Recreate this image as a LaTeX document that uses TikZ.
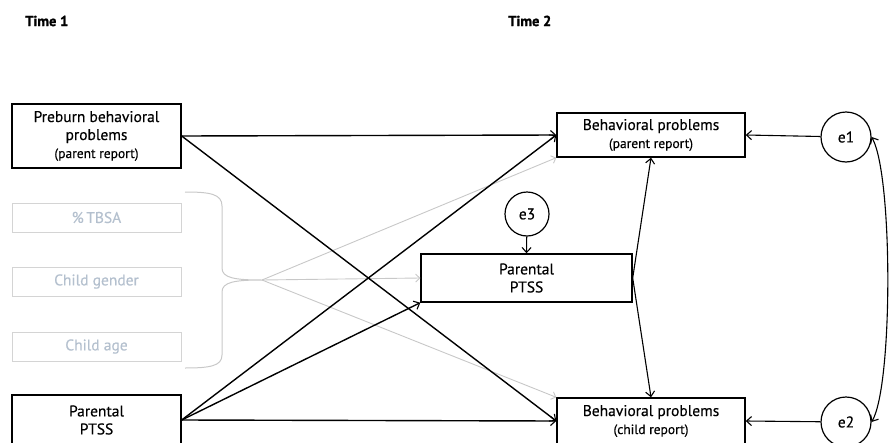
\documentclass[tikz,border=0pt]{standalone}
\usepackage{fontspec}
\setmainfont{PT Sans}[UprightFeatures={FakeBold=0.3},BoldFeatures={FakeBold=1.2}]
\usetikzlibrary{arrows.meta}
\definecolor{lgray}{HTML}{D4D4D4}
\definecolor{gtext}{HTML}{B4C0CE}
\definecolor{garrow}{HTML}{C8C8C8}
\begin{document}
\begin{tikzpicture}[x=1pt,y=-1pt,
  mainfont/.style={font=\fontsize{15.5}{18}\selectfont},
  box/.style={draw, line width=1.4pt, align=center, inner sep=0pt, mainfont},
  gbox/.style={draw=lgray, line width=1pt, align=center, inner sep=0pt, text=gtext,
    minimum width=169pt, minimum height=29pt, mainfont},
  err/.style={draw, circle, line width=1.2pt, inner sep=0pt, mainfont},
  tip/.style={-{Straight Barb[length=5pt,width=9pt,line width=1.1pt]}},
  arr/.style={line width=1.4pt, tip},
  thinarr/.style={line width=1.1pt, tip},
  garr/.style={draw=garrow, line width=0.9pt, -{Straight Barb[length=4pt,width=8pt,line width=0.9pt]}},
  timelbl/.style={anchor=west, inner sep=0pt, font=\bfseries\fontsize{14.5}{16}\selectfont}
]
\useasboundingbox (0,0) rectangle (889,442);
\newcommand{\subtxt}[1]{{\fontsize{13.5}{15}\selectfont #1}}

\node[timelbl] (t1) at (25,21) {Time 1};
\node[timelbl] (t2) at (508,21) {Time 2};

\node[box, minimum width=169pt, minimum height=64pt] (pre) at (96.5,136)
  {Preburn behavioral\\problems\\\subtxt{(parent report)}};
\node[gbox] (tbsa) at (96.5,217.5) {\%\,TBSA};
\node[gbox] (gender) at (96.5,281.5) {Child gender};
\node[gbox] (age) at (96.5,346.5) {Child age};
\node[box, minimum width=169pt, minimum height=50pt] (ptssL) at (96.5,420)
  {Parental\\PTSS};

\node[box, minimum width=188pt, minimum height=44pt] (bpp) at (651,135)
  {Behavioral problems\\\subtxt{(parent report)}};
\node[box, minimum width=188pt, minimum height=46pt] (bpc) at (651,421)
  {Behavioral problems\\\subtxt{(child report)}};
\node[box, minimum width=211pt, minimum height=48pt] (mid) at (526.5,278)
  {Parental\\PTSS};

\node[err, minimum size=50pt] (e1) at (846,137) {e1};
\node[err, minimum size=50pt] (e2) at (846,422) {e2};
\node[err, minimum size=44pt] (e3) at (527,214) {e3};

% brace
\coordinate (bt) at (262,280);
\draw[garrow, line width=1pt] (185,192) .. controls (210,192) and (222,194) .. (222,206)
  -- (222,268) .. controls (222,278) and (235,280) .. (bt)
  .. controls (235,280) and (222,282) .. (222,292)
  -- (222,355) .. controls (222,366) and (210,368) .. (185,368);

% gray arrows
\draw[garr] (bt) -- (bpp.south west);
\draw[garr] (bt) -- (mid.west);
\draw[garr] (bt) -- (bpc.north west);

% black arrows
\draw[arr] (pre.east) -- (bpp.west);
\draw[arr] (pre.east) -- (bpc.west);
\draw[arr] (ptssL.east) -- (bpp.west);
\draw[arr] (ptssL.east) -- (mid.south west);
\draw[arr] (ptssL.east) -- (bpc.west);

\draw[thinarr] (mid.east) -- (bpp.south);
\draw[thinarr] (mid.east) -- (bpc.north);
\draw[thinarr] (e3) -- (mid.north);
\draw[thinarr] (e1) -- (bpp.east);
\draw[thinarr] (e2) -- (bpc.east);
\draw[line width=1.1pt, {Straight Barb[length=5pt,width=9pt,line width=1.1pt]}-{Straight Barb[length=5pt,width=9pt,line width=1.1pt]}]
  (e1.east) .. controls (893,175) and (893,385) .. (e2.east);
\end{tikzpicture}
\end{document}
